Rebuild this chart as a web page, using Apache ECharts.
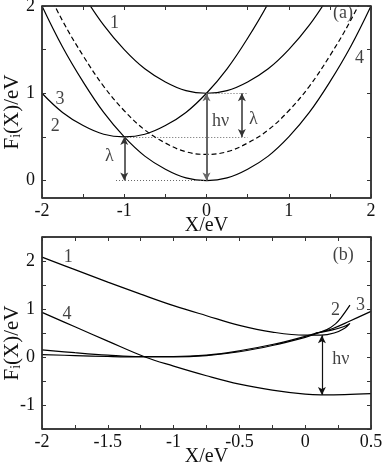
<!DOCTYPE html>
<html>
<head>
<meta charset="utf-8">
<script src="https://cdn.jsdelivr.net/npm/echarts@6/dist/echarts.min.js"></script>
<style>
  html, body { margin: 0; padding: 0; background: #fff; }
  #chart { width: 382px; height: 464px; }
</style>
</head>
<body>
<div id="chart"></div>
<script>
// ---- panel (a) : parabolas sampled every 0.25 eV ----
const xA = [-2, -1.75, -1.5, -1.25, -1, -0.75, -0.5, -0.25, 0, 0.25, 0.5, 0.75, 1, 1.25, 1.5, 1.75, 2];
const curve1A = [3.0, 2.53, 2.13, 1.78, 1.5, 1.28, 1.13, 1.03, 1.0, 1.03, 1.13, 1.28, 1.5, 1.78, 2.13, 2.53, 3.0];
const curve23A = [1.0, 0.78, 0.63, 0.53, 0.5, 0.53, 0.63, 0.78, 1.0, 1.28, 1.63, 2.03, 2.5];
const curve4A = [2.0, 1.53, 1.13, 0.78, 0.5, 0.28, 0.13, 0.03, 0.0, 0.03, 0.13, 0.28, 0.5, 0.78, 1.13, 1.53, 2.0];
const dashedA = [2.3, 1.83, 1.43, 1.08, 0.8, 0.58, 0.43, 0.33, 0.3, 0.33, 0.43, 0.58, 0.8, 1.08, 1.43, 1.83, 2.3];

const xTicksA = [-2, -1.5, -1, -0.5, 0, 0.5, 1, 1.5, 2];
const xLabelsA = [-2, -1, 0, 1, 2];
const yTicksA = [0, 0.5, 1, 1.5, 2];
const yLabelsA = [0, 1, 2];

// arrows [x1, y1, x2, y2]
const arrowsA = [[0, 0, 0, 1], [-1, 0, -1, 0.5], [0.43, 0.5, 0.43, 1]];
const dottedA = [[-1.1, 0, 0, 0], [-1, 0.5, 0.5, 0.5], [0, 1, 0.5, 1]];
const textA = [['1', -1.12, 1.8], ['3', -1.78, 0.93], ['2', -1.84, 0.62], ['4', 1.86, 1.4],
               ['hν', 0.17, 0.68], ['λ', 0.57, 0.7], ['λ', -1.18, 0.28], ['(a)', 1.66, 1.92]];

// ---- panel (b) ----
const curve1B = [[-2, 2.08], [-1.75, 1.82], [-1.5, 1.56], [-1.25, 1.31], [-1, 1.07], [-0.75, 0.86],
                 [-0.5, 0.66], [-0.25, 0.52], [0, 0.455], [0.12, 0.455], [0.22, 0.5], [0.3, 0.6], [0.34, 0.7],
                 [0.29, 0.63], [0.2, 0.56], [0.08, 0.5]];
const curve2B = [[-2, 0.15], [-1.75, 0.09], [-1.5, 0.04], [-1.25, 0.01], [-1, 0.01], [-0.75, 0.04],
                 [-0.5, 0.13], [-0.25, 0.26], [0, 0.43], [0.1, 0.51], [0.165, 0.57], [0.23, 0.69],
                 [0.27, 0.81], [0.34, 1.08]];
const curve3B = [[-2, 0.05], [-1.75, 0.03], [-1.5, 0.01], [-1.25, 0.0], [-1, 0.0], [-0.75, 0.03],
                 [-0.5, 0.11], [-0.25, 0.24], [0, 0.41], [0.1, 0.5], [0.215, 0.6], [0.34, 0.75], [0.5, 0.95]];
const curve4B = [[-2, 0.93], [-1.75, 0.63], [-1.5, 0.33], [-1.217, 0.0], [-1, -0.19], [-0.75, -0.39],
                 [-0.5, -0.565], [-0.25, -0.69], [0, -0.775], [0.12, -0.79], [0.3, -0.785], [0.5, -0.765]];

const xTicksB = [-2, -1.75, -1.5, -1.25, -1, -0.75, -0.5, -0.25, 0, 0.25, 0.5];
const xLabelsB = [-2, -1.5, -1, -0.5, 0, 0.5];
const yTicksB = [-1.5, -1, -0.5, 0, 0.5, 1, 1.5, 2, 2.5];
const yLabelsB = [-1, 0, 1, 2];

const arrowsB = [[0.127, -0.79, 0.127, 0.455]];
const textB = [['1', -1.8, 2.08], ['4', -1.81, 0.9], ['2', 0.23, 0.98], ['3', 0.42, 1.08],
               ['hν', 0.27, -0.05], ['(b)', 0.29, 2.12]];

const FONT = 'Liberation Serif';
const AXIS_COLOR = '#333';
const GRID_W = 329, GRID_H = 192, TICK_LEN = 4;

function axisLabel(labels, margin) {
    if (!labels) return { show: false };
    return { show: true, customValues: labels, margin: margin,
             fontFamily: FONT, fontSize: 18, color: '#111' };
}

function xAxis(grid, pos, min, max, ticks, labels, name, gap) {
    return {
        type: 'value', gridIndex: grid, position: pos, min: min, max: max,
        name: name || '', nameLocation: 'middle', nameGap: gap, nameMoveOverlap: false,
        nameTextStyle: { fontFamily: FONT, fontSize: 20, color: '#111' },
        axisLine: { show: true, onZero: false, lineStyle: { color: AXIS_COLOR, width: 1.5 } },
        axisTick: { show: true, inside: true, length: TICK_LEN, customValues: ticks, lineStyle: { color: AXIS_COLOR } },
        axisLabel: axisLabel(labels, 4),
        splitLine: { show: false }
    };
}

function yAxis(grid, pos, min, max, ticks, labels, name) {
    return {
        type: 'value', gridIndex: grid, position: pos, min: min, max: max,
        name: name || '', nameLocation: 'middle', nameGap: 19, nameRotate: 90, nameMoveOverlap: false,
        nameTextStyle: {
            rich: {
                f: { fontFamily: FONT, fontSize: 21, color: '#111' },
                s: { fontFamily: FONT, fontSize: 14, color: '#111', verticalAlign: 'bottom', padding: [8, 0, 0, 0] },
                g: { width: 20 }
            }
        },
        axisLine: { show: true, onZero: false, lineStyle: { color: AXIS_COLOR, width: 1.5 } },
        axisTick: { show: true, inside: true, length: TICK_LEN, customValues: ticks, lineStyle: { color: AXIS_COLOR } },
        axisLabel: axisLabel(labels, 7),
        splitLine: { show: false }
    };
}

function curve(axis, data, dashed) {
    return {
        type: 'line', xAxisIndex: axis, yAxisIndex: axis, data: data,
        smooth: 0.4, showSymbol: false, silent: true, clip: true,
        lineStyle: { color: '#000', width: 1.2, type: dashed ? [5, 3] : 'solid' }
    };
}

function zip(xs, ys) {
    return ys.map((y, i) => [xs[i], y]);
}

function markers(axis, arrows, dotted, arrowColor, arrowWidth) {
    let lines = [];
    arrows.forEach((a, i) => {
        lines.push([
            { coord: [a[0], a[1]], lineStyle: { color: arrowColor[i], width: arrowWidth[i], type: 'solid' } },
            { coord: [a[2], a[3]] }
        ]);
    });
    dotted.forEach(d => {
        lines.push([
            { coord: [d[0], d[1]], symbol: 'none', lineStyle: { color: '#666', width: 1, type: [1, 2] } },
            { coord: [d[2], d[3]], symbol: 'none' }
        ]);
    });
    return {
        type: 'line', xAxisIndex: axis, yAxisIndex: axis, silent: true,
        data: [[arrows[0][0], arrows[0][1]]], showSymbol: false, lineStyle: { opacity: 0 },
        markLine: {
            silent: true, symbol: ['arrow', 'arrow'], symbolSize: [6, 8],
            label: { show: false }, emphasis: { disabled: true },
            data: lines
        }
    };
}

// box around the plot with inward ticks on all four sides, built from the axis ranges
function frame(axis, xr, yr, xt, yt) {
    const dx = TICK_LEN * (xr[1] - xr[0]) / GRID_W;
    const dy = TICK_LEN * (yr[1] - yr[0]) / GRID_H;
    const seg = (a, b, w) => [{ coord: a, lineStyle: { color: AXIS_COLOR, width: w, type: 'solid' } }, { coord: b }];
    let lines = [
        seg([xr[0], yr[0]], [xr[1], yr[0]], 1.5), seg([xr[0], yr[1]], [xr[1], yr[1]], 1.5),
        seg([xr[0], yr[0]], [xr[0], yr[1]], 1.5), seg([xr[1], yr[0]], [xr[1], yr[1]], 1.5)
    ];
    xt.forEach(t => {
        lines.push(seg([t, yr[0]], [t, yr[0] + dy], 1));
        lines.push(seg([t, yr[1]], [t, yr[1] - dy], 1));
    });
    yt.forEach(t => {
        lines.push(seg([xr[0], t], [xr[0] + dx, t], 1));
        lines.push(seg([xr[1], t], [xr[1] - dx, t], 1));
    });
    return {
        type: 'line', xAxisIndex: axis, yAxisIndex: axis, silent: true,
        data: [[xr[0], yr[0]]], showSymbol: false, lineStyle: { opacity: 0 },
        markLine: {
            silent: true, symbol: 'none', label: { show: false }, emphasis: { disabled: true },
            data: lines
        }
    };
}

function texts(axis, items) {
    return {
        type: 'scatter', xAxisIndex: axis, yAxisIndex: axis, symbolSize: 1, silent: true,
        itemStyle: { color: 'rgba(0,0,0,0)' },
        data: items.map(t => ({ value: [t[1], t[2]], name: t[0] })),
        label: {
            show: true, position: 'inside', formatter: p => p.name,
            fontFamily: FONT, fontSize: 18, color: '#111'
        }
    };
}

const yName = '{f|F}{s|i}{f|(X)/eV}{g|}';

let chart = echarts.init(document.getElementById('chart'));

chart.setOption({
    animation: false,
    grid: [
        { left: 42, top: 6, width: GRID_W, height: GRID_H, outerBoundsMode: 'none' },
        { left: 42, top: 237, width: GRID_W, height: GRID_H, outerBoundsMode: 'none' }
    ],
    xAxis: [
        xAxis(0, 'bottom', -2, 2, xTicksA, xLabelsA, 'X/eV', 18),
        xAxis(0, 'top', -2, 2, xTicksA, null),
        xAxis(1, 'bottom', -2, 0.5, xTicksB, xLabelsB, 'X/eV', 18),
        xAxis(1, 'top', -2, 0.5, xTicksB, null)
    ],
    yAxis: [
        yAxis(0, 'left', -0.2, 2, yTicksA, yLabelsA, yName),
        yAxis(0, 'right', -0.2, 2, yTicksA, null),
        yAxis(1, 'left', -1.5, 2.5, yTicksB, yLabelsB, yName),
        yAxis(1, 'right', -1.5, 2.5, yTicksB, null)
    ],
    series: [
        frame(0, [-2, 2], [-0.2, 2], xTicksA, yTicksA),
        curve(0, zip(xA, curve1A)),
        curve(0, zip(xA, curve23A)),
        curve(0, zip(xA, curve4A)),
        curve(0, zip(xA, dashedA), true),
        markers(0, arrowsA, dottedA, ['#666', '#333', '#333'], [2, 1.5, 1.5]),
        texts(0, textA),
        frame(2, [-2, 0.5], [-1.5, 2.5], xTicksB, yTicksB),
        curve(2, curve1B),
        curve(2, curve2B),
        curve(2, curve3B),
        curve(2, curve4B),
        markers(2, arrowsB, [], ['#111'], [1.2]),
        texts(2, textB)
    ]
});
</script>
</body>
</html>
